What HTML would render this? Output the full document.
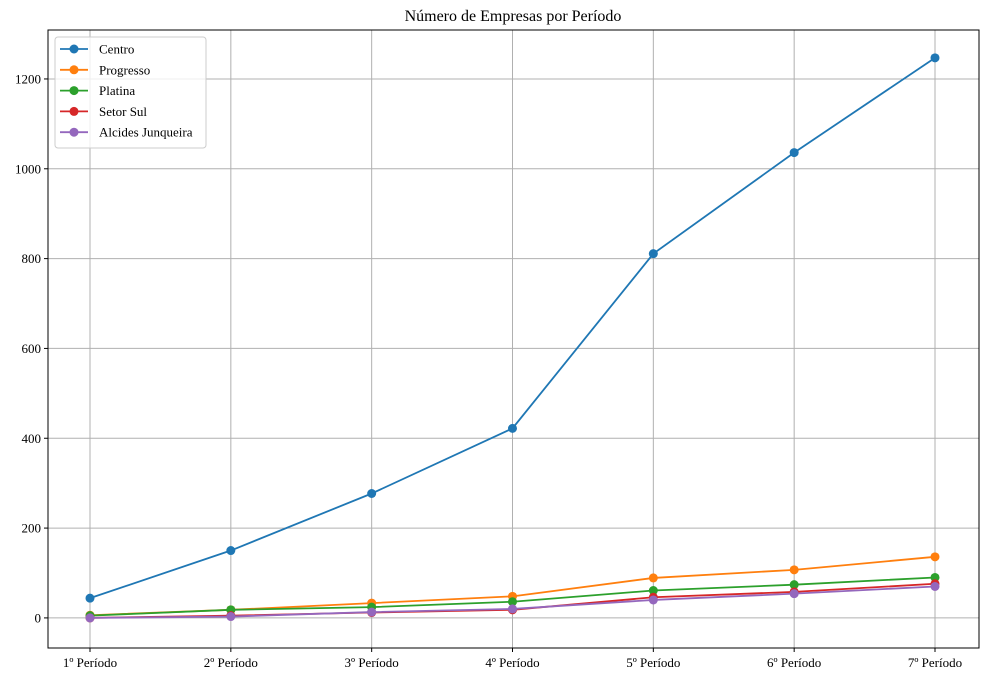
<!DOCTYPE html>
<html><head><meta charset="utf-8"><style>body{margin:0;background:#fff}svg{display:block;font-family:"Liberation Serif",serif}</style></head>
<body>
<svg id="c" width="987" height="680"></svg>
<script>
const categories=["1º Período","2º Período","3º Período","4º Período","5º Período","6º Período","7º Período"];
const seriesNames=["Centro","Progresso","Platina","Setor Sul","Alcides Junqueira"];
const centro=[44,150,277,422,811,1036,1247];
const progresso=[6,18,33,48,89,107,136];
const platina=[5,18,24,36,61,74,90];
const setorSul=[0,5,12,18,46,58,76];
const alcides=[0,3,13,20,40,54,70];
const yTicks=[0,200,400,600,800,1000,1200];
const colors=["#1f77b4","#ff7f0e","#2ca02c","#d62728","#9467bd"];
const all=[centro,progresso,platina,setorSul,alcides];
const L=48,R=979,T=30,B=648,yMin=-67,yMax=1309;
const x=i=>90+i*(935-90)/(categories.length-1);
const y=v=>B-(v-yMin)/(yMax-yMin)*(B-T);
const s=document.getElementById('c');const NS="http://www.w3.org/2000/svg";
function el(t,a,p){const e=document.createElementNS(NS,t);for(const k in a)e.setAttribute(k,a[k]);(p||s).appendChild(e);return e;}
let t=el('text',{x:513,y:21,'text-anchor':'middle','font-size':16});t.textContent="Número de Empresas por Período";


categories.forEach((c,i)=>{let g=el('line',{x1:x(i),x2:x(i),y1:T,y2:B,stroke:'#b0b0b0','stroke-width':1});


el('line',{x1:x(i),x2:x(i),y1:B,y2:B+4,stroke:'#000'});
let l=el('text',{x:x(i),y:B+19,'text-anchor':'middle','font-size':13});l.textContent=c;

});
yTicks.forEach(v=>{let g=el('line',{x1:L,x2:R,y1:y(v),y2:y(v),stroke:'#b0b0b0','stroke-width':1});


el('line',{x1:L-4,x2:L,y1:y(v),y2:y(v),stroke:'#000'});
let l=el('text',{x:L-7,y:y(v)+4.5,'text-anchor':'end','font-size':13});l.textContent=v;

});
let fr=el('rect',{x:L,y:T,width:R-L,height:B-T,fill:'none',stroke:'#000','stroke-width':1});


all.forEach((d,si)=>{let g=el('g',{});


el('polyline',{points:d.map((v,i)=>x(i)+','+y(v)).join(' '),fill:'none',stroke:colors[si],'stroke-width':1.8},g);
d.forEach((v,i)=>{let p=el('circle',{cx:x(i),cy:y(v),r:4.5,fill:colors[si]},g);

});});
let lg=el('g',{});


el('rect',{x:55,y:37,width:151,height:111,rx:3,fill:'#fff',stroke:'#ccc','fill-opacity':0.8},lg);
seriesNames.forEach((n,i)=>{const yy=49+i*20.8;
el('line',{x1:60,x2:88,y1:yy,y2:yy,stroke:colors[i],'stroke-width':1.8},lg);
el('circle',{cx:74,cy:yy,r:4.5,fill:colors[i]},lg);
let tx=el('text',{x:99,y:yy+4.5,'font-size':13},lg);tx.textContent=n;

});
</script>
</body></html>
